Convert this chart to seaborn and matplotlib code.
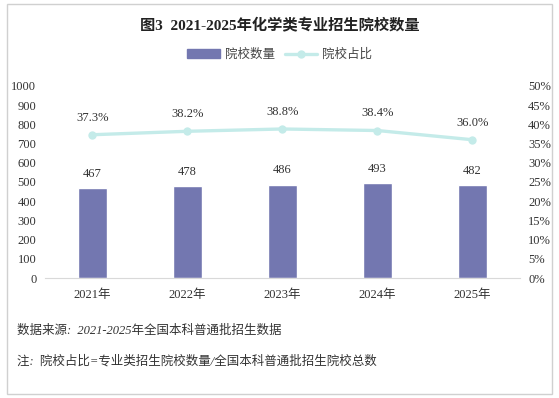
import pandas as pd
import matplotlib
matplotlib.use("Agg")
import matplotlib.pyplot as plt
from matplotlib.patches import Rectangle
from matplotlib.lines import Line2D
from matplotlib.patches import Patch
import seaborn as sns

# data
years = ["2021年", "2022年", "2023年", "2024年", "2025年"]
school_count = [467, 478, 486, 493, 482]
school_share = [37.3, 38.2, 38.8, 38.4, 36.0]

title = "图3  2021-2025年化学类专业招生院校数量"
note1 = "数据来源:  2021-2025年全国本科普通批招生数据"
note2 = "注:  院校占比=专业类招生院校数量/全国本科普通批招生院校总数"

sns.set_style("white")
plt.rcParams["font.family"] = ["Liberation Serif", "Noto Sans CJK SC"]

bar_color = "#7377b0"
line_color = "#c4ebe9"

df = pd.DataFrame({"year": years, "count": school_count, "share": school_share})

fig = plt.figure(figsize=(5.59, 3.98), dpi=100)
ax = fig.add_axes([0.08, 0.3015, 0.85, 0.4825])

# bars: number of schools
sns.barplot(data=df, x="year", y="count", color=bar_color, width=0.31,
            saturation=1, ax=ax)
ax.bar_label(ax.containers[0], fontsize=9, padding=6, color="#333333")
ax.set_ylim(0, 1000)
ax.set_yticks(range(0, 1001, 100))
ax.set_xlabel("")
ax.set_ylabel("")
ax.tick_params(axis="both", length=0, labelsize=9, colors="#333333")
ax.tick_params(axis="x", pad=8)
ax.tick_params(axis="y", pad=6)
for s in ["top", "right", "left"]:
    ax.spines[s].set_visible(False)
ax.spines["bottom"].set_color("#d9d9d9")

# line: share of schools
ax2 = ax.twinx()
sns.lineplot(data=df, x="year", y="share", color=line_color, linewidth=2.4,
             marker="o", markersize=6, markeredgewidth=0, ax=ax2)
ax2.set_ylim(0, 50)
ax2.set_yticks(range(0, 51, 5))
ax2.set_yticklabels([f"{v}%" for v in range(0, 51, 5)])
ax2.set_ylabel("")
ax2.tick_params(axis="y", length=0, labelsize=9, colors="#333333", pad=6)
for s in ax2.spines.values():
    s.set_visible(False)
for i, v in enumerate(school_share):
    ax2.annotate(f"{v:.1f}%", (i, v), xytext=(0, 8), textcoords="offset points",
                 ha="center", va="bottom", fontsize=9, color="#333333")
ax.set_xlim(-0.5, 4.5)

fig.text(0.5, 0.935, title, ha="center", va="center", fontsize=11,
         fontweight="bold", color="#222222")

handles = [Patch(color=bar_color), Line2D([], [], color=line_color, lw=2.4,
                                           marker="o", markersize=5)]
fig.legend(handles, ["院校数量", "院校占比"], loc="center", ncol=2,
           bbox_to_anchor=(0.5, 0.862), frameon=False, fontsize=9,
           handlelength=2.6, handleheight=0.7, columnspacing=0.8,
           handletextpad=0.4, labelcolor="#444444")

fig.text(0.03, 0.168, note1, ha="left", va="center", fontsize=9,
         style="italic", color="#333333")
fig.text(0.03, 0.093, note2, ha="left", va="center", fontsize=9,
         style="italic", color="#333333")

fig.patches.append(Rectangle((0.0125, 0.01), 0.975, 0.98, transform=fig.transFigure,
                             fill=False, edgecolor="#d0d0d0", lw=1))

fig.savefig("out.png", dpi=100)
